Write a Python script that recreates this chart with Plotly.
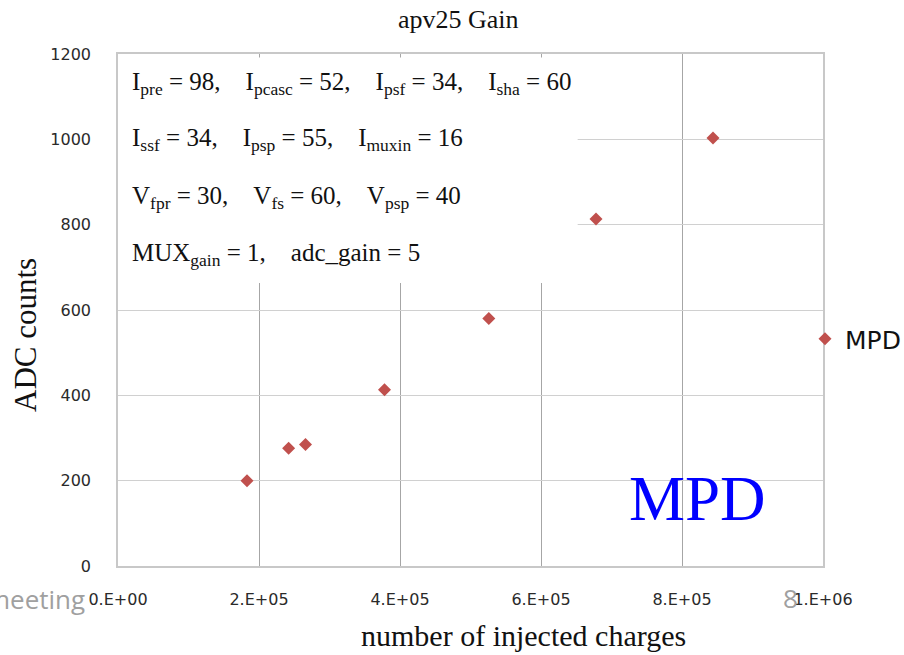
import plotly.graph_objects as go

# ---- data ----
charges = [183000, 242000, 266000, 378000, 526000, 678000, 844000]
adc_counts = [200, 276, 285, 413, 580, 813, 1003]
series_name = "MPD"

x_tick_vals = [0, 200000, 400000, 600000, 800000, 1000000]
x_tick_text = ["0.E+00", "2.E+05", "4.E+05", "6.E+05", "8.E+05", "1.E+06"]
y_tick_vals = [0, 200, 400, 600, 800, 1000, 1200]

sp = "\u00a0\u00a0\u00a0\u00a0"
param_lines = [
    f"I<sub>pre</sub> = 98,{sp}I<sub>pcasc</sub> = 52,{sp}I<sub>psf</sub> = 34,{sp}I<sub>sha</sub> = 60",
    f"I<sub>ssf</sub> = 34,{sp}I<sub>psp</sub> = 55,{sp}I<sub>muxin</sub> = 16",
    f"V<sub>fpr</sub> = 30,{sp}V<sub>fs</sub> = 60,{sp}V<sub>psp</sub> = 40",
    f"MUX<sub>gain</sub> = 1,{sp}adc_gain = 5",
]
param_y_px = [83, 139, 197, 254]

W, H = 904, 655
L, R, T, B = 118, 81, 54, 89
pw, ph = W - L - R, H - T - B

def px_x(p):
    return (p - L) / pw

def px_y(p):
    return (H - B - p) / ph

serif = "Liberation Serif"
sans = "DejaVu Sans"

fig = go.Figure()
fig.add_trace(go.Scatter(
    x=charges, y=adc_counts, mode="markers", name=series_name,
    marker=dict(symbol="diamond", size=10, color="#c0504d"),
))

fig.update_layout(
    width=W, height=H,
    margin=dict(l=L, r=R, t=T, b=B, autoexpand=False),
    paper_bgcolor="white", plot_bgcolor="white",
    showlegend=True,
    legend=dict(x=px_x(805), y=px_y(339), xanchor="left", yanchor="middle",
                font=dict(family=sans, size=25, color="#111"),
                bgcolor="rgba(0,0,0,0)", borderwidth=0),
    xaxis=dict(range=[0, 1000000], tickvals=x_tick_vals, ticktext=x_tick_text,
               showgrid=True, gridcolor="#a6a6a6", gridwidth=1.3,
               showline=True, linecolor="#c8c8c8", linewidth=1.5, mirror=True,
               zeroline=False, ticks="", ticklabelstandoff=18,
               tickfont=dict(family=sans, size=16, color="#2a2a2a")),
    yaxis=dict(range=[0, 1200], tickvals=y_tick_vals,
               showgrid=True, gridcolor="#d0d0d0", gridwidth=1.3,
               showline=True, linecolor="#c8c8c8", linewidth=1.5, mirror=True,
               zeroline=False, ticks="", ticklabelstandoff=22,
               tickfont=dict(family=sans, size=16, color="#2a2a2a")),
)

# white text box hiding gridlines
fig.add_shape(type="rect", xref="x", yref="y", x0=0, x1=652000, y0=663, y1=1192,
              fillcolor="white", line=dict(width=0), layer="between")

ann = []
ann.append(dict(text="apv25 Gain", xref="paper", yref="paper", x=px_x(458), y=px_y(19),
                xanchor="center", yanchor="middle", showarrow=False,
                font=dict(family=serif, size=26, color="#111")))
for txt, yy in zip(param_lines, param_y_px):
    ann.append(dict(text=txt, xref="paper", yref="paper", x=px_x(130), y=px_y(yy),
                    xanchor="left", yanchor="middle", showarrow=False,
                    font=dict(family=serif, size=25, color="#111")))
ann.append(dict(text="ADC counts", xref="paper", yref="paper", x=px_x(25), y=px_y(335),
                xanchor="center", yanchor="middle", textangle=-90, showarrow=False,
                font=dict(family=serif, size=31, color="#111")))
ann.append(dict(text="number of injected charges", xref="paper", yref="paper",
                x=px_x(523), y=px_y(635), xanchor="center", yanchor="middle",
                showarrow=False, font=dict(family=serif, size=30, color="#111")))
ann.append(dict(text="MPD", xref="paper", yref="paper", x=px_x(697), y=px_y(499),
                xanchor="center", yanchor="middle", showarrow=False,
                font=dict(family=serif, size=63, color="#0000ff")))
ann.append(dict(text="meeting", xref="paper", yref="paper", x=px_x(87), y=px_y(599),
                xanchor="right", yanchor="middle", showarrow=False,
                font=dict(family="Open Sans", size=26, color="#a0a0a0")))
ann.append(dict(text="8", xref="paper", yref="paper", x=px_x(790), y=px_y(598),
                xanchor="center", yanchor="middle", showarrow=False,
                font=dict(family="Open Sans", size=26, color="#a0a0a0")))
fig.update_layout(annotations=ann)

fig.write_html("out.html", config={"displayModeBar": False},
               post_script="document.body.style.margin='0px';document.body.style.overflow='hidden';")
